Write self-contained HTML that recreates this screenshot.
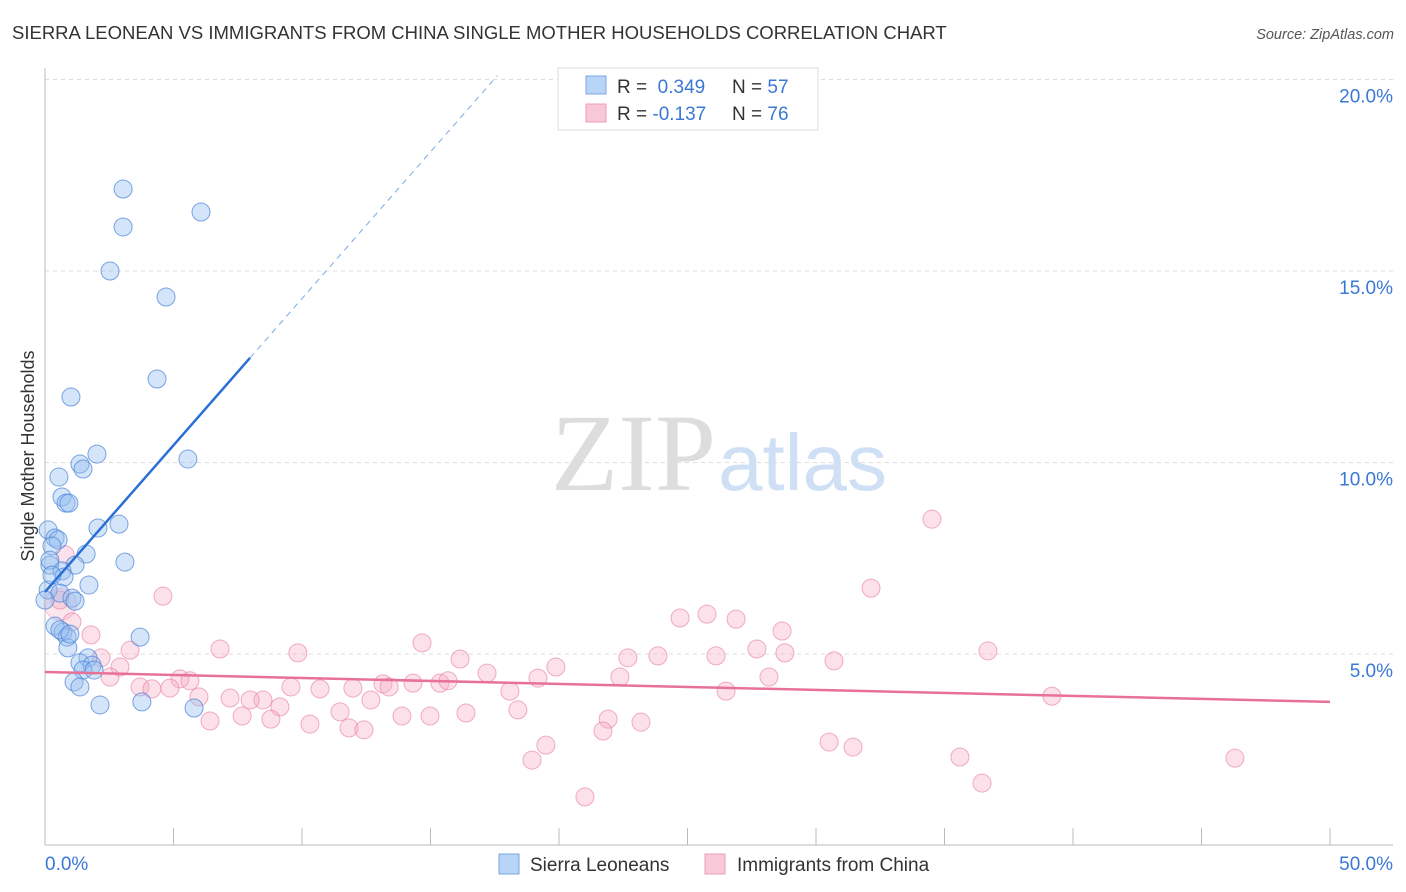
<!DOCTYPE html>
<html><head><meta charset="utf-8"><style>
body{margin:0;background:#fff;font-family:"Liberation Sans",sans-serif}
svg{display:block}
</style></head><body>
<svg id="chart" width="1406" height="892" xmlns="http://www.w3.org/2000/svg">
<text x="12" y="39" font-size="18.5" fill="#333">SIERRA LEONEAN VS IMMIGRANTS FROM CHINA SINGLE MOTHER HOUSEHOLDS CORRELATION CHART</text>
<text x="1394" y="39" font-size="14.5" fill="#555" font-style="italic" text-anchor="end">Source: ZipAtlas.com</text>
<g id="grid"></g>
<text x="716" y="490" font-size="110" fill="#ddd" text-anchor="end" font-family="Liberation Serif,serif">ZIP</text>
<text x="718" y="490" font-size="80" fill="#cfe0f5">atlas</text>
<g id="pts"></g>
<g id="lines"></g>
<text transform="translate(34,456) rotate(-90)" font-size="18" fill="#333" text-anchor="middle">Single Mother Households</text>
<g>
<rect x="558" y="68" width="260" height="62" fill="#fff" stroke="#ddd"/>
<rect x="586" y="76" width="20" height="18" fill="#b8d4f7" stroke="#7aa8e6"/>
<rect x="586" y="104" width="20" height="18" fill="#f9c8d8" stroke="#ec9cb8"/>
<text x="617" y="93" font-size="19" fill="#333">R = <tspan fill="#3a78d6">&#160;0.349</tspan><tspan x="732">N = </tspan><tspan fill="#3a78d6">57</tspan></text>
<text x="617" y="120" font-size="19" fill="#333">R = <tspan fill="#3a78d6">-0.137</tspan><tspan x="732">N = </tspan><tspan fill="#3a78d6">76</tspan></text>
</g>
<g>
<rect x="499" y="854" width="20" height="20" fill="#b8d4f7" stroke="#7aa8e6"/>
<text x="530" y="871" font-size="19" fill="#333">Sierra Leoneans</text>
<rect x="705" y="854" width="20" height="20" fill="#f9c8d8" stroke="#ec9cb8"/>
<text x="737" y="871" font-size="19" fill="#333">Immigrants from China</text>
</g>
</svg>
<script>
const yTicks=[5,10,15,20];
const yTickLabels=["5.0%","10.0%","15.0%","20.0%"];
const xTickLabels=["0.0%","50.0%"];
const blueX=[3.04,3.04,6.07,2.53,4.71,4.36,1.01,2.02,5.56,1.36,1.48,0.54,0.66,0.82,0.93,2.06,2.88,0.12,0.39,0.51,0.27,1.60,3.11,1.17,0.19,0.66,0.74,1.71,0.12,0.58,1.05,1.17,0.39,0.70,0.86,3.70,0.89,1.67,1.36,1.83,1.48,1.91,1.13,1.36,2.14,3.77,5.80,0.19,0.27,0,0.58,0.97];
const blueY=[17.14,16.15,16.54,15.0,14.32,12.18,11.71,10.22,10.09,9.96,9.83,9.62,9.10,8.94,8.94,8.29,8.39,8.24,8.03,7.98,7.82,7.61,7.40,7.32,7.32,7.17,7.01,6.80,6.67,6.59,6.46,6.38,5.73,5.57,5.44,5.44,5.16,4.90,4.77,4.71,4.58,4.58,4.27,4.14,3.67,3.75,3.59,7.45,7.06,6.41,5.63,5.52];
const pinkX=[34.51,32.14,4.59,25.76,24.71,26.89,28.68,1.79,1.05,14.67,6.81,3.31,9.84,27.70,28.79,36.69,22.68,23.85,26.11,16.15,30.70,19.88,2.18,2.92,17.20,22.37,2.53,5.25,5.64,28.17,19.18,14.32,15.37,15.68,13.15,11.98,9.57,13.39,3.70,4.86,4.16,10.70,18.09,26.50,39.18,5.99,7.20,8.48,7.98,12.68,9.14,18.40,11.48,16.38,7.67,13.89,14.98,6.42,8.79,10.31,21.91,23.19,21.71,11.83,12.41,30.51,19.49,31.44,18.95,35.60,46.30,36.46,21.01,0.58,0.78];
const pinkY=[8.52,6.72,6.51,6.04,5.94,5.91,5.60,5.50,5.84,5.29,5.13,5.10,5.03,5.13,5.03,5.08,4.90,4.95,4.95,4.87,4.82,4.66,4.90,4.66,4.50,4.40,4.40,4.35,4.30,4.40,4.37,4.24,4.24,4.30,4.22,4.11,4.14,4.14,4.14,4.11,4.09,4.09,4.03,4.03,3.90,3.88,3.85,3.80,3.80,3.80,3.62,3.54,3.49,3.46,3.38,3.38,3.38,3.25,3.30,3.17,3.30,3.22,2.99,3.07,3.02,2.70,2.62,2.57,2.23,2.31,2.28,1.63,1.27,6.41,7.59];
const blueLine=[6.62,0.766], pinkLine=[4.53,-0.0156];
const NS="http://www.w3.org/2000/svg";
const X=v=>45+v*25.7, Y=v=>845.5-v*38.3;
function mk(p,t,a){const e=document.createElementNS(NS,t);for(const k in a)e.setAttribute(k,a[k]);p.appendChild(e);return e;}
const grid=document.getElementById('grid');
for(let i=0;i<yTicks.length;i++){
 const g=mk(grid,'line',{x1:45,x2:1393,y1:Y(yTicks[i]),y2:Y(yTicks[i]),stroke:'#ddd','stroke-dasharray':'4,4'});
 
 
 const t=mk(grid,'text',{x:1393,y:Y(yTicks[i])+23,'font-size':19,fill:'#3a78d6','text-anchor':'end'});t.textContent=yTickLabels[i];
 
 
}
const ax=mk(grid,'line',{x1:45,x2:45,y1:68,y2:845,stroke:'#bbb'});


const bx=mk(grid,'line',{x1:45,x2:1393,y1:845,y2:845,stroke:'#bbb'});


for(let i=0;i<=10;i++){const t=mk(grid,'line',{x1:X(i*5),x2:X(i*5),y1:828,y2:845,stroke:'#bbb'});
 
 }
const l0=mk(grid,'text',{x:45,y:870,'font-size':19,fill:'#3a78d6'});l0.textContent=xTickLabels[0];


const l1=mk(grid,'text',{x:1393,y:870,'font-size':19,fill:'#3a78d6','text-anchor':'end'});l1.textContent=xTickLabels[1];


const pts=document.getElementById('pts');
const big=mk(pts,'circle',{cx:X(0.6),cy:Y(6.3),r:16,fill:'rgba(245,170,195,0.3)',stroke:'rgba(232,130,165,0.45)'});


for(let i=0;i<pinkX.length;i++){const c=mk(pts,'circle',{cx:X(pinkX[i]),cy:Y(pinkY[i]),r:9,fill:'rgba(245,170,195,0.35)',stroke:'rgba(232,130,165,0.65)'});
 
 }
for(let i=0;i<blueX.length;i++){const c=mk(pts,'circle',{cx:X(blueX[i]),cy:Y(blueY[i]),r:9,fill:'rgba(150,190,240,0.4)',stroke:'rgba(70,130,215,0.7)'});
 
 }
const ln=document.getElementById('lines');
const bl=mk(ln,'line',{x1:X(0),y1:Y(blueLine[0]),x2:X(7.98),y2:Y(blueLine[0]+blueLine[1]*7.98),stroke:'#2a6fd6','stroke-width':2.5});


const bd=mk(ln,'line',{x1:X(7.98),y1:Y(blueLine[0]+blueLine[1]*7.98),x2:X(17.6),y2:Y(blueLine[0]+blueLine[1]*17.6),stroke:'#7aa8e6','stroke-width':1,'stroke-dasharray':'6,5'});


const pl=mk(ln,'line',{x1:X(0),y1:Y(pinkLine[0]),x2:X(50),y2:Y(pinkLine[0]+pinkLine[1]*50),stroke:'#e8719a','stroke-width':2.5});


</script>
</body></html>
